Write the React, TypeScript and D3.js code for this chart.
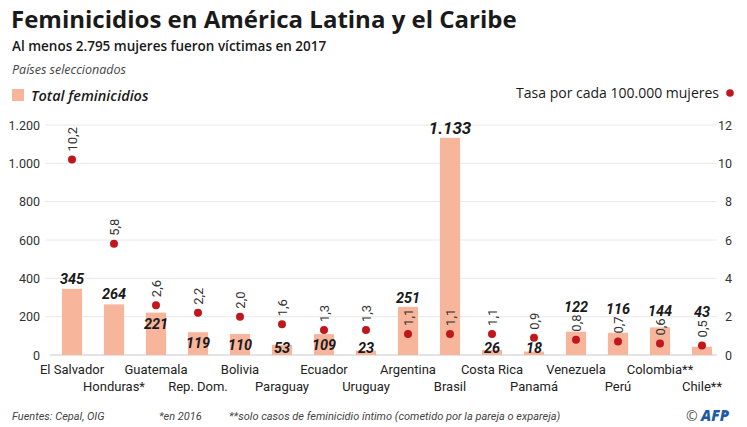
import { useEffect, useRef } from "react";
import * as d3 from "d3";

const countries = [
  "El Salvador", "Honduras*", "Guatemala", "Rep. Dom.", "Bolivia", "Paraguay",
  "Ecuador", "Uruguay", "Argentina", "Brasil", "Costa Rica", "Panamá",
  "Venezuela", "Perú", "Colombia**", "Chile**",
];
const totals = [345, 264, 221, 119, 110, 53, 109, 23, 251, 1133, 26, 18, 122, 116, 144, 43];
const rates = [10.2, 5.8, 2.6, 2.2, 2.0, 1.6, 1.3, 1.3, 1.1, 1.1, 1.1, 0.9, 0.8, 0.7, 0.6, 0.5];
const leftTicks = [0, 200, 400, 600, 800, 1000, 1200];
const rightTicks = [0, 2, 4, 6, 8, 10, 12];

const W = 747;
const H = 427;
const barColor = "#f7b59c";
const dotColor = "#c0171d";
const narrow = "Roboto, sans-serif";
const sans = "'Open Sans', 'Noto Sans', sans-serif";

const fmtInt = (v: number) => d3.format(",")(v).replace(/,/g, ".");
const fmtRate = (v: number) => v.toFixed(1).replace(".", ",");

const Chart = () => {
  const svgRef = useRef<SVGSVGElement>(null);

  useEffect(() => {
    document.body.style.margin = "0";
    const svg = d3.select(svgRef.current);
    svg.selectAll("*").remove();

    const data = countries.map((c, i) => ({ country: c, total: totals[i], rate: rates[i], i }));

    // plot area
    const top = 125;
    const bottom = 355;
    const gridLeft = 45;
    const gridRight = 717;

    const x = d3.scaleBand<string>()
      .domain(countries)
      .range([51, 723])
      .paddingInner(0.52)
      .paddingOuter(0.26);
    const y = d3.scaleLinear().domain([0, 1200]).range([bottom, top]);
    const yr = d3.scaleLinear().domain([0, 12]).range([bottom, top]);

    // titles
    svg.append("text")
      .attr("x", 11).attr("y", 28)
      .style("font-family", sans).style("font-weight", 700).style("font-size", "24px")
      .attr("fill", "#1a1a1a")
      .text("Feminicidios en América Latina y el Caribe");
    svg.append("text")
      .attr("x", 12).attr("y", 51)
      .style("font-family", sans).style("font-weight", 600).style("font-size", "13.5px")
      .attr("fill", "#1a1a1a")
      .text("Al menos 2.795 mujeres fueron víctimas en 2017");
    svg.append("text")
      .attr("x", 12).attr("y", 74)
      .style("font-family", sans).style("font-style", "italic").style("font-size", "12.5px")
      .attr("fill", "#444")
      .text("Países seleccionados");

    // legends
    svg.append("rect").attr("x", 12).attr("y", 89).attr("width", 12).attr("height", 12).attr("fill", barColor);
    svg.append("text")
      .attr("x", 31).attr("y", 101)
      .style("font-family", sans).style("font-style", "italic").style("font-weight", 600).style("font-size", "14.5px")
      .attr("fill", "#1a1a1a")
      .text("Total feminicidios");
    svg.append("text")
      .attr("x", 719).attr("y", 98)
      .attr("text-anchor", "end")
      .style("font-family", sans).style("font-size", "14px")
      .attr("fill", "#1a1a1a")
      .text("Tasa por cada 100.000 mujeres");
    svg.append("circle").attr("cx", 730).attr("cy", 93).attr("r", 3.8).attr("fill", dotColor);

    // grid
    svg.append("g")
      .selectAll("line")
      .data(leftTicks)
      .join("line")
      .attr("x1", d => (d === 0 ? gridLeft + 5 : gridLeft)).attr("x2", gridRight)
      .attr("y1", d => y(d)).attr("y2", d => y(d))
      .attr("stroke", d => (d === 0 ? "#c8c8c8" : "#e8e8e8"))
      .attr("stroke-width", 1);

    // left axis
    const la = svg.append("g")
      .attr("transform", `translate(${gridLeft},0)`)
      .call(d3.axisLeft(y).tickValues(leftTicks).tickSize(0).tickPadding(5).tickFormat(d => fmtInt(+d)));
    la.select(".domain").remove();
    la.selectAll("text")
      .style("font-family", narrow).style("font-size", "12.5px").attr("fill", "#333");

    // right axis
    const ra = svg.append("g")
      .attr("transform", `translate(${gridRight},0)`)
      .call(d3.axisRight(yr).tickValues(rightTicks).tickSize(0).tickPadding(15).tickFormat(d => String(d)));
    ra.select(".domain").remove();
    ra.selectAll("text")
      .attr("text-anchor", "end")
      .style("font-family", narrow).style("font-size", "12.5px").attr("fill", "#333");

    // bars
    svg.append("g")
      .selectAll("rect")
      .data(data)
      .join("rect")
      .attr("x", d => x(d.country)!)
      .attr("width", x.bandwidth())
      .attr("y", d => y(d.total))
      .attr("height", d => y(0) - y(d.total))
      .attr("fill", barColor);

    // dots
    svg.append("g")
      .selectAll("circle")
      .data(data)
      .join("circle")
      .attr("cx", d => x(d.country)! + x.bandwidth() / 2)
      .attr("cy", d => yr(d.rate))
      .attr("r", 4)
      .attr("fill", dotColor);

    // rate labels, rotated above the dot
    svg.append("g")
      .selectAll("text")
      .data(data)
      .join("text")
      .attr("transform", d => `translate(${x(d.country)! + x.bandwidth() / 2 + 4.5},${yr(d.rate) - 8}) rotate(-90)`)
      .style("font-family", narrow).style("font-size", "13px").attr("fill", "#333")
      .text(d => fmtRate(d.rate));

    // value labels: under the bar top when the dot sits just above it
    const rateTop = (d: typeof data[number]) => yr(d.rate) - 24;
    svg.append("g")
      .selectAll("text")
      .data(data)
      .join("text")
      .attr("x", d => x(d.country)! + x.bandwidth() / 2)
      .attr("y", d => {
        const diff = d.rate * 100 - d.total;
        const barTop = y(d.total);
        if (diff > 10 && diff < 200) return Math.min(barTop + 16, bottom - 2);
        if (diff > 200) return barTop - 5;
        return Math.min(barTop, rateTop(d)) - 4;
      })
      .attr("text-anchor", "middle")
      .style("font-family", narrow).style("font-style", "italic").style("font-weight", 700)
      .style("font-size", d => (d.total > 1000 ? "17px" : "14.5px"))
      .attr("fill", "#1a1a1a")
      .text(d => fmtInt(d.total));

    // category labels, two alternating rows
    svg.append("g")
      .selectAll("text")
      .data(data)
      .join("text")
      .attr("x", d => x(d.country)! + x.bandwidth() / 2)
      .attr("y", d => (d.i % 2 === 0 ? 374 : 391))
      .attr("text-anchor", "middle")
      .style("font-family", narrow).style("font-size", "13px").attr("fill", "#222")
      .text(d => d.country);

    // footer
    const foot = [
      { x: 12, t: "Fuentes: Cepal, OIG" },
      { x: 159, t: "*en 2016" },
      { x: 229, t: "**solo casos de feminicidio íntimo (cometido por la pareja o expareja)" },
    ];
    svg.append("g")
      .selectAll("text")
      .data(foot)
      .join("text")
      .attr("x", d => d.x).attr("y", 420)
      .style("font-family", narrow).style("font-style", "italic").style("font-size", "11px").attr("fill", "#444")
      .text(d => d.t);
    svg.append("text")
      .attr("x", 686).attr("y", 421)
      .style("font-family", sans).style("font-size", "14px").attr("fill", "#555")
      .text("©");
    svg.append("text")
      .attr("x", 701).attr("y", 421)
      .style("font-family", sans).style("font-style", "italic").style("font-weight", 800).style("font-size", "15px")
      .attr("fill", "#1f5aa6")
      .text("AFP");
  }, []);

  return <svg ref={svgRef} width={W} height={H} style={{ display: "block", background: "#fff" }} />;
};

export default function App() {
  return <Chart />;
}
